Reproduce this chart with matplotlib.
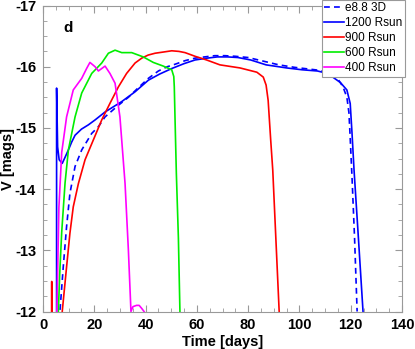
import matplotlib
matplotlib.use("Agg")
import matplotlib.pyplot as plt
from matplotlib.ticker import MultipleLocator

plt.rcParams['font.family'] = ['Liberation Sans', 'DejaVu Sans']
plt.rcParams['axes.unicode_minus'] = False

# e8.8 3D (dashed blue)
t_3d = [6.2, 6.6, 7.9, 9.2, 10.5, 12.5, 15.1, 19.0, 21.6, 24.2, 29.4, 33.3, 37.0, 41.1, 45.0,
        48.5, 51.5, 55.5, 59.3, 63.0, 67.0, 71.0, 75.0, 80.0, 86.0, 92.0, 98.0, 104.0, 108.0,
        111.0, 112.7, 115.0, 117.0, 118.5, 119.3, 119.7, 120.5, 121.5, 122.5]
v_3d = [-11.7, -12.0, -12.73, -13.39, -13.93, -14.37, -14.64, -14.91, -15.02, -15.18, -15.37,
        -15.50, -15.65, -15.81, -15.93, -16.00, -16.04, -16.10, -16.14, -16.16, -16.18, -16.18,
        -16.17, -16.15, -16.09, -16.03, -15.99, -15.96, -15.94, -15.90, -15.86, -15.80, -15.67,
        -15.50, -15.25, -14.92, -14.2, -13.2, -12.0]

# 1200 Rsun
t_1200 = [5.3, 5.3, 5.7, 6.3, 7.5, 8.6, 9.9, 11.2, 12.5, 15.0, 17.7, 20.3, 24.2, 30.7, 35.9,
          41.1, 45.5, 50.2, 55.0, 59.3, 64.0, 68.0, 72.0, 76.0, 81.0, 87.0, 95.0, 101.0, 107.0,
          110.0, 113.0, 116.0, 118.5, 119.8, 120.5, 121.3, 123.0, 124.8]
v_1200 = [-11.5, -15.65, -14.69, -14.48, -14.42, -14.52, -14.64, -14.77, -14.88, -14.98, -15.05,
          -15.13, -15.26, -15.43, -15.59, -15.78, -15.88, -15.97, -16.05, -16.11, -16.14, -16.16,
          -16.16, -16.15, -16.11, -16.03, -15.98, -15.95, -15.93, -15.90, -15.83, -15.74, -15.62,
          -15.40, -14.92, -14.31, -13.2, -12.0]

# 900 Rsun
t_900 = [3.3, 3.4, 3.5, 7.2, 7.5, 9.2, 10.5, 11.8, 13.8, 16.4, 19.6, 22.9, 26.1, 29.4, 32.6,
         35.9, 38.5, 41.0, 43.7, 47.0, 50.2, 53.0, 55.4, 59.3, 63.8, 69.0, 76.8, 83.4, 85.9,
         87.0, 87.8, 88.8, 89.6, 90.8, 92.1]
v_900 = [-11.0, -12.49, -11.0, -11.5, -12.0, -12.73, -13.28, -13.71, -14.09, -14.48, -14.80,
         -15.13, -15.40, -15.67, -15.89, -16.06, -16.14, -16.19, -16.22, -16.24, -16.26, -16.25,
         -16.23, -16.17, -16.11, -16.03, -15.98, -15.91, -15.83, -15.70, -15.45, -14.80, -14.31,
         -13.2, -12.0]

# 600 Rsun
t_600 = [5.6, 6.0, 6.5, 7.3, 8.6, 9.9, 12.5, 15.1, 19.0, 22.9, 25.5, 28.1, 30.7, 34.6, 39.1,
         43.0, 46.9, 50.2, 51.0, 51.2, 51.5, 52.0, 52.8, 53.4]
v_600 = [-11.6, -12.0, -12.6, -13.3, -14.1, -14.64, -15.18, -15.57, -15.89, -16.06, -16.22,
         -16.27, -16.23, -16.23, -16.16, -16.07, -16.01, -15.95, -15.84, -15.67, -15.13, -14.26,
         -13.2, -12.0]

# 400 Rsun
t_400 = [5.0, 5.4, 6.2, 7.3, 9.2, 11.8, 15.1, 17.0, 18.3, 20.3, 21.6, 22.9, 24.2, 26.1, 28.1,
         30.0, 32.0, 33.3, 34.3, 35.1, 36.5, 37.5, 38.5, 39.4]
v_400 = [-11.6, -12.0, -13.7, -14.6, -15.18, -15.62, -15.81, -15.97, -16.07, -16.00, -15.93,
         -15.97, -16.01, -15.89, -15.73, -15.18, -14.09, -13.0, -12.0, -12.08, -12.10, -12.10,
         -12.05, -12.0]

x_ticks = [0, 20, 40, 60, 80, 100, 120, 140]
y_ticks = [-17, -16, -15, -14, -13, -12]

fig = plt.figure(figsize=(4.15, 3.49), dpi=100)
ax = fig.add_axes([43/415, 1-311.5/349, 359/415, 306/349])

lw = 1.2
ax.plot(t_3d, v_3d, color='#0000ff', lw=lw, ls=(0, (3.5, 2.5)), label='e8.8 3D')
ax.plot(t_1200, v_1200, color='#0000ff', lw=lw, label='1200 Rsun')
ax.plot(t_900, v_900, color='#ff0000', lw=lw, label='900 Rsun')
ax.plot(t_600, v_600, color='#00ee00', lw=lw, label='600 Rsun')
ax.plot(t_400, v_400, color='#ff00ff', lw=lw, label='400 Rsun')

ax.set_xlim(0, 140)
ax.set_ylim(-12, -17)
ax.set_xticks(x_ticks)
ax.set_yticks(y_ticks)
ax.set_xticklabels([str(v) for v in x_ticks])
ax.set_yticklabels([str(v) for v in y_ticks])
ax.xaxis.set_minor_locator(MultipleLocator(5))
ax.yaxis.set_minor_locator(MultipleLocator(0.25))

spine_col = '#999999'
for s in ax.spines.values():
    s.set_color(spine_col)
    s.set_linewidth(0.8)
ax.tick_params(which='both', direction='in', top=True, right=True, color=spine_col)
ax.tick_params(which='major', length=5, width=0.8, labelsize=10.5, pad=5)
ax.tick_params(which='minor', length=3, width=0.6)
for lab in ax.get_xticklabels() + ax.get_yticklabels():
    lab.set_fontweight('bold')

ax.set_xlabel('Time [days]', fontsize=10.5, fontweight='bold', labelpad=2)
ax.set_ylabel('V [mags]', fontsize=10.5, fontweight='bold')
ax.yaxis.set_label_coords(-0.078, 0.5)
ax.text(0.057, 0.925, 'd', transform=ax.transAxes, fontsize=11, fontweight='bold',
        ha='left', va='center')

leg = ax.legend(loc='upper right', bbox_to_anchor=(1.008, 1.018), borderaxespad=0,
                fontsize=8.5, frameon=True, fancybox=False, framealpha=1,
                edgecolor='#999999', handlelength=1.7, handletextpad=0.1,
                labelspacing=0.25, borderpad=0.2)
leg.get_frame().set_linewidth(0.8)

fig.savefig('out.png', dpi=100)
